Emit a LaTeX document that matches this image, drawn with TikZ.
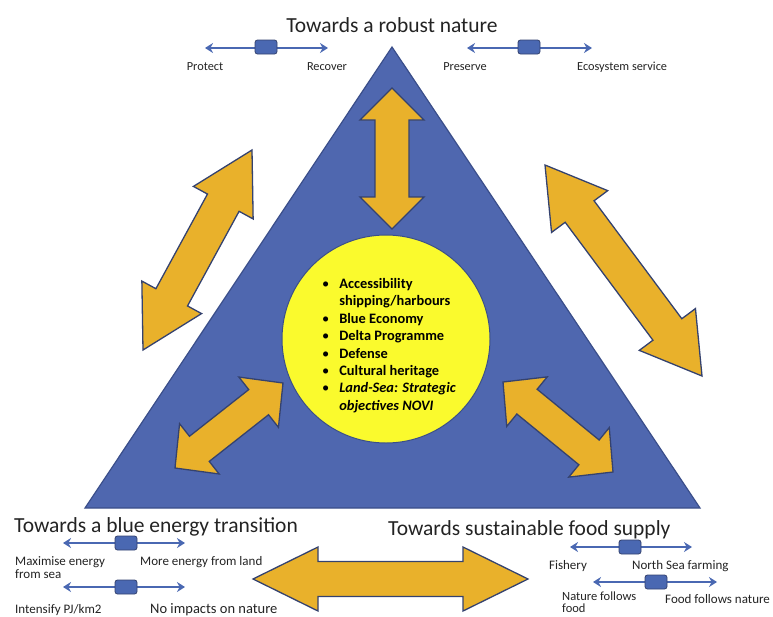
\documentclass[tikz,border=0pt]{standalone}
\usepackage{fontspec}
\setmainfont{Carlito}
\usetikzlibrary{calc,arrows.meta}

\definecolor{triblue}{RGB}{79,103,175}
\definecolor{triedge}{RGB}{58,78,138}
\definecolor{gold}{RGB}{233,177,43}
\definecolor{goldedge}{RGB}{52,66,111}
\definecolor{hubyellow}{RGB}{250,250,45}
\definecolor{slideblue}{RGB}{74,104,178}
\definecolor{inktext}{RGB}{35,35,35}

\tikzset{
  goldarrow/.style={fill=gold, draw=goldedge, line width=1.3pt, line join=miter},
  slider/.style={draw=slideblue, line width=1.7pt,
    {Stealth[length=8pt,width=10pt]}-{Stealth[length=8pt,width=10pt]}},
  knob/.style={draw=goldedge, fill=slideblue, rounded corners=2.5pt,
    minimum width=22pt, minimum height=14pt, inner sep=0pt, line width=0.8pt},
  heading/.style={font=\fontsize{21.5}{24}\selectfont, text=inktext, inner sep=0pt},
  toplabel/.style={font=\fontsize{12.3}{14}\selectfont, text=inktext, inner sep=0pt, align=left},
  optlabel/.style={font=\fontsize{13}{13}\selectfont, text=inktext, inner sep=0pt, align=left},
}

% double-headed block arrow between two tips:
% #1,#2 tips, #3 head length, #4 head half-width, #5 shaft half-width
\newcommand\dblblockarrow[5]{%
  \path[goldarrow] (#1)
    -- ($(#1)!#3!(#2)!#4!90:(#2)$) -- ($(#1)!#3!(#2)!#5!90:(#2)$)
    -- ($(#2)!#3!(#1)!#5!-90:(#1)$) -- ($(#2)!#3!(#1)!#4!-90:(#1)$)
    -- (#2)
    -- ($(#2)!#3!(#1)!#4!90:(#1)$) -- ($(#2)!#3!(#1)!#5!90:(#1)$)
    -- ($(#1)!#3!(#2)!#5!-90:(#2)$) -- ($(#1)!#3!(#2)!#4!-90:(#2)$)
    -- cycle;}

\begin{document}
\begin{tikzpicture}[x=1pt,y=-1pt]
\useasboundingbox (0,0) rectangle (773,616);

% the triangle
\coordinate (apex) at (392,47);
\coordinate (bl) at (85,508);
\coordinate (br) at (700,508);
\fill[triblue] (apex) -- (bl) -- (br) -- cycle;
\draw[triedge, line width=1.2pt, line join=miter] (apex) -- (bl) -- (br) -- cycle;

% central circle with the list
\node[circle, minimum size=208pt, inner sep=0pt, fill=hubyellow, draw=triedge, line width=1pt] (hub) at (386,339) {};
\node[anchor=west, inner sep=0pt, text=black] (list) at (322,346) {%
  \fontsize{14.4}{17.4}\selectfont\bfseries
  \begin{tabular}{@{}l@{\hspace{10pt}}l@{}}
  {\mdseries\textbullet} & Accessibility\\
   & shipping/harbours\\
  {\mdseries\textbullet} & Blue Economy\\
  {\mdseries\textbullet} & Delta Programme\\
  {\mdseries\textbullet} & Defense\\
  {\mdseries\textbullet} & Cultural heritage\\
  {\mdseries\textbullet} & \textit{Land-Sea: Strategic}\\
   & \textit{objectives NOVI}
  \end{tabular}};

% arrow tips
\coordinate (topA) at (392,88);   \coordinate (topB) at (392,229);
\coordinate (lftA) at (252,150);  \coordinate (lftB) at (143,350);
\coordinate (rgtA) at (545,165);  \coordinate (rgtB) at (702,376);
\coordinate (ilA) at (283,383);   \coordinate (ilB) at (175,468);
\coordinate (irA) at (503,382);   \coordinate (irB) at (613,472);
\coordinate (botA) at (253,579);  \coordinate (botB) at (528,579);

\dblblockarrow{topA}{topB}{32pt}{32pt}{17pt}
\dblblockarrow{lftA}{lftB}{60pt}{34pt}{18pt}
\dblblockarrow{rgtA}{rgtB}{58pt}{35pt}{18pt}
\dblblockarrow{ilA}{ilB}{31pt}{32pt}{16pt}
\dblblockarrow{irA}{irB}{31pt}{32pt}{16pt}
\dblblockarrow{botA}{botB}{65pt}{32pt}{17.5pt}

% headings
\node[heading] (hnature) at (392,25) {Towards a robust nature};
\node[heading, anchor=west] (henergy) at (14,527) {Towards a blue energy transition};
\node[heading, anchor=west] (hfood) at (388,530) {Towards sustainable food supply};

% robust nature sliders
\coordinate (n1a) at (205,48); \coordinate (n1b) at (328,48);
\draw[slider] (n1a) -- (n1b);
\node[knob] (k1) at (266,47) {};
\node[toplabel] (protect) at (205,67) {Protect};
\node[toplabel] (recover) at (327,67) {Recover};

\coordinate (n2a) at (467,48); \coordinate (n2b) at (592,48);
\draw[slider] (n2a) -- (n2b);
\node[knob] (k2) at (529,47) {};
\node[toplabel] (preserve) at (465,67) {Preserve};
\node[toplabel, anchor=west] (ecoserv) at (577,67) {Ecosystem service};

% blue energy sliders (multi-line labels are placed by their last baseline)
\coordinate (e1a) at (63,543); \coordinate (e1b) at (185,543);
\draw[slider] (e1a) -- (e1b);
\node[knob] (k3) at (126,543) {};
\node[optlabel, anchor=base west] (maxsea) at (15,578) {Maximise energy\\from sea};
\node[optlabel, anchor=base west] (moreland) at (140,565) {More energy from land};

\coordinate (e2a) at (63,587); \coordinate (e2b) at (185,587);
\draw[slider] (e2a) -- (e2b);
\node[knob] (k4) at (126,587) {};
\node[optlabel, anchor=base west] (intensify) at (15,613) {Intensify PJ/km2};
\node[optlabel, anchor=base west, font=\fontsize{14.5}{14}\selectfont] (noimpact) at (150,613) {No impacts on nature};

% food supply sliders
\coordinate (f1a) at (570,547); \coordinate (f1b) at (692,547);
\draw[slider] (f1a) -- (f1b);
\node[knob] (k5) at (630,547) {};
\node[optlabel, anchor=base] (fishery) at (568,569) {Fishery};
\node[optlabel, anchor=base west] (farming) at (632,569) {North Sea farming};

\coordinate (f2a) at (593,582); \coordinate (f2b) at (717,582);
\draw[slider] (f2a) -- (f2b);
\node[knob] (k6) at (656,582) {};
\node[optlabel, anchor=base west, font=\fontsize{12.5}{12}\selectfont] (natfollows) at (562,612) {Nature follows\\food};
\node[optlabel, anchor=base west] (foodfollows) at (665,603) {Food follows nature};
\end{tikzpicture}
\end{document}
